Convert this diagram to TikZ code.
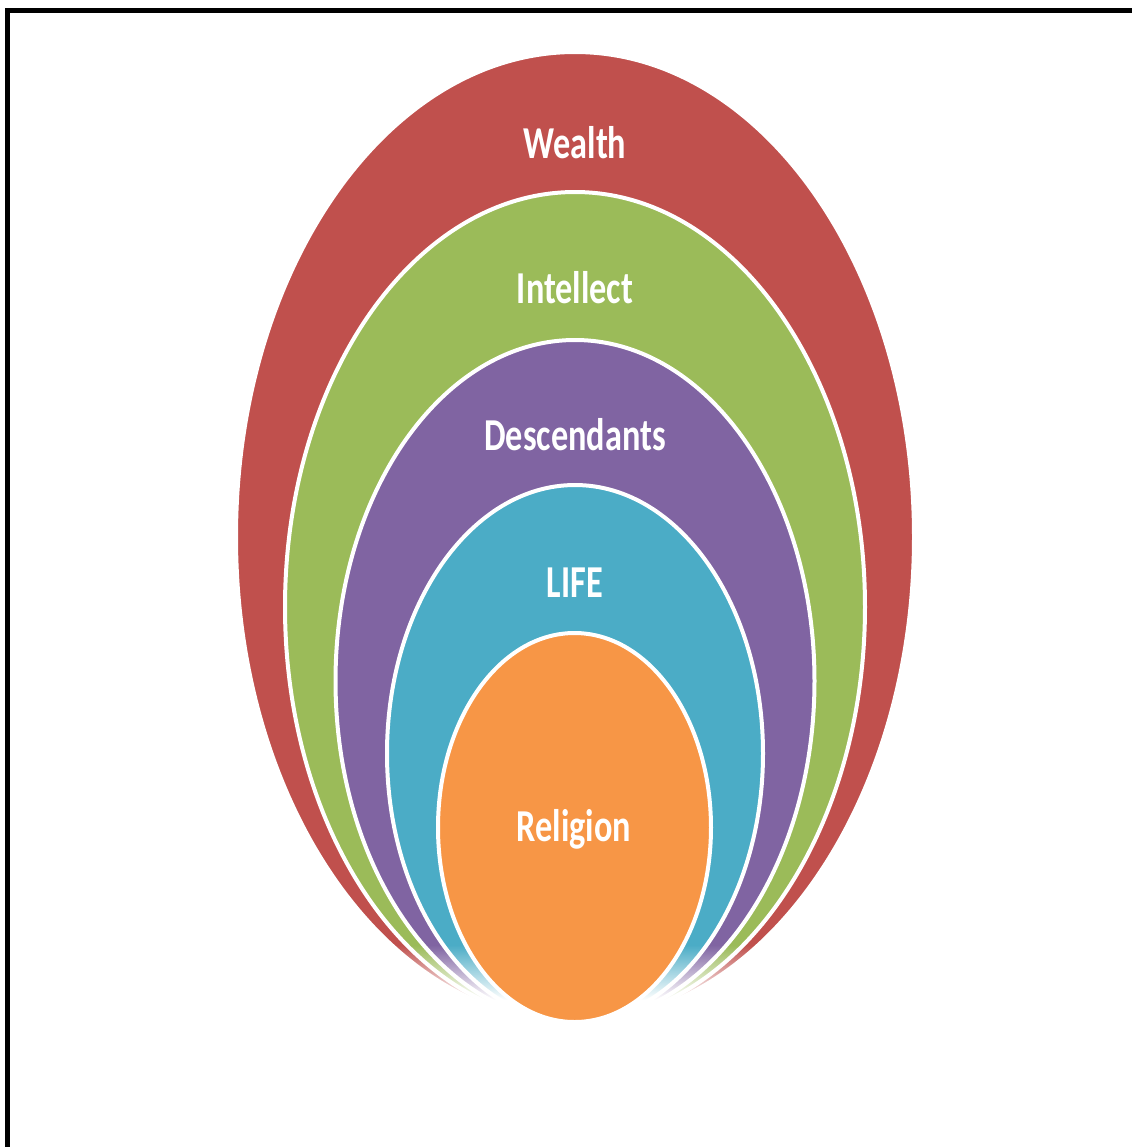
\documentclass[tikz,border=0pt]{standalone}
\usepackage{fontspec}
\setmainfont{Carlito}
\usepackage{tikz}
\usetikzlibrary{fadings}
\tikzfading[name=fadeout, top color=transparent!100, bottom color=transparent!0]
\tikzset{ring/.style={draw=white, line width=0.08cm}, tag/.style={font=\fontsize{26}{30}\selectfont\bfseries, text=white, xscale=0.75, transform shape, anchor=base, inner sep=0pt}}

\begin{document}
\begin{tikzpicture}[x=0.02cm, y=-0.02cm]

	\definecolor{color0}{RGB}{192,80,77}
	\definecolor{color1}{RGB}{155,187,89}
	\definecolor{color2}{RGB}{128,100,162}
	\definecolor{color3}{RGB}{75,172,198}
	\definecolor{color4}{RGB}{247,150,70}

	\useasboundingbox (0,0) rectangle (1132,1147);

	% frame
	\draw [line width=0.1cm] (7.5,1147) -- (7.5,10.5) -- (1132,10.5);

	% rings, outside in, all touching the same bottom point
	\def \yb {1022};
	\foreach \col/\yt/\rx in {color0/52/339, color1/192/290, color2/340/239.5, color3/485/188}
		\filldraw [ring, fill=\col] (575,{(\yt+\yb)/2}) ellipse [x radius=\rx, y radius={(\yb-\yt)/2}];

	% lower ends fade out
	\fill [white, path fading=fadeout] (200,945) rectangle (950,1000);
	\fill [white] (200,1000) rectangle (950,1060);

	% core
	\filldraw [ring, fill=color4] (574.5,827.5) ellipse [x radius=136.5, y radius=194.5];

	% texts
	\node [tag] (wealth) at (575,158) {Wealth};
	\node [tag] (intellect) at (575,303) {Intellect};
	\node [tag] (descendants) at (575,450) {Descendants};
	\node [tag] (life) at (575,597) {LIFE};
	\node [tag] (religion) at (574,841) {Religion};

\end{tikzpicture}
\end{document}
